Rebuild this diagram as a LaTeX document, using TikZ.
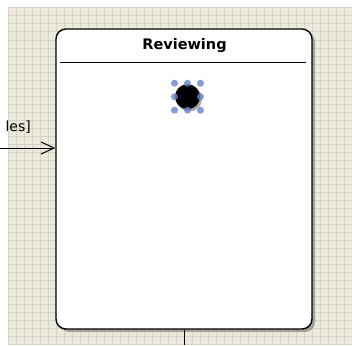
\documentclass[tikz,border=0pt]{standalone}
\usepackage{fontspec}
\setmainfont{DejaVu Sans}
\usetikzlibrary{arrows.meta,calc}
\definecolor{beige}{RGB}{236,233,216}
\definecolor{gridc}{RGB}{214,211,204}
\definecolor{handle}{RGB}{98,132,204}
\tikzset{
  gridline/.style={draw=gridc, line width=1pt},
  statebox/.style={draw=black, line width=1.4pt, fill=white, rounded corners=10pt,
    minimum width=256pt, minimum height=300pt, inner sep=0pt},
  boxshadow/.style={fill=black!55, rounded corners=10pt, opacity=0.6},
  titletext/.style={font=\fontsize{14.5}{16}\selectfont\bfseries, inner sep=0pt},
  guardtext/.style={font=\fontsize{14}{16}\selectfont, inner sep=0pt},
  initstate/.style={circle, fill=black, minimum size=25pt, inner sep=0pt},
  handledot/.style={circle, fill=handle, opacity=0.8, minimum size=7pt, inner sep=0pt},
  conn/.style={draw=black, line width=1pt},
}
\begin{document}
\begin{tikzpicture}[x=1pt,y=-1pt]
\useasboundingbox (0,0) rectangle (352,345);
\fill[white] (0,0) rectangle (352,345);
\fill[beige] (8,8) rectangle (352,345);
\foreach \i in {8,16,...,352} {
  \draw[gridline] (\i,8) -- (\i,345);
}
\foreach \j in {8,16,...,344} {
  \draw[gridline] (8,\j) -- (352,\j);
}
% shadow
\fill[boxshadow] (59,32) rectangle (315,332);
% state box
\node[statebox] (box) at (184,179) {};
\node[titletext] (title) at (184.5,46) {Reviewing};
\coordinate (sepL) at (60,62);
\coordinate (sepR) at (306,62);
\draw[line width=1pt] (sepL) -- (sepR);
% initial node
\fill[black!35] (189.5,99) circle (12.5pt);
\node[initstate] (init) at (187.5,96.7) {};
\foreach \dx/\dy in {-13/-13.5,0/-13.5,13/-13.5,-13/0,13/0,-13/13.5,0/13.5,13/13.5} {
  \node[handledot] at ($(init)+(\dx,\dy)$) {};
}
% incoming transition
\coordinate (src) at (0,148);
\node[guardtext, anchor=east] (guard) at (31,127) {les]};
\draw[conn, -{Straight Barb[length=13pt,width=12pt,line width=1pt]}] (src) -- (src -| box.west);
% outgoing transition
\coordinate (out) at (184.3,345);
\draw[conn] (box.south -| out) -- (out);
\end{tikzpicture}
\end{document}
